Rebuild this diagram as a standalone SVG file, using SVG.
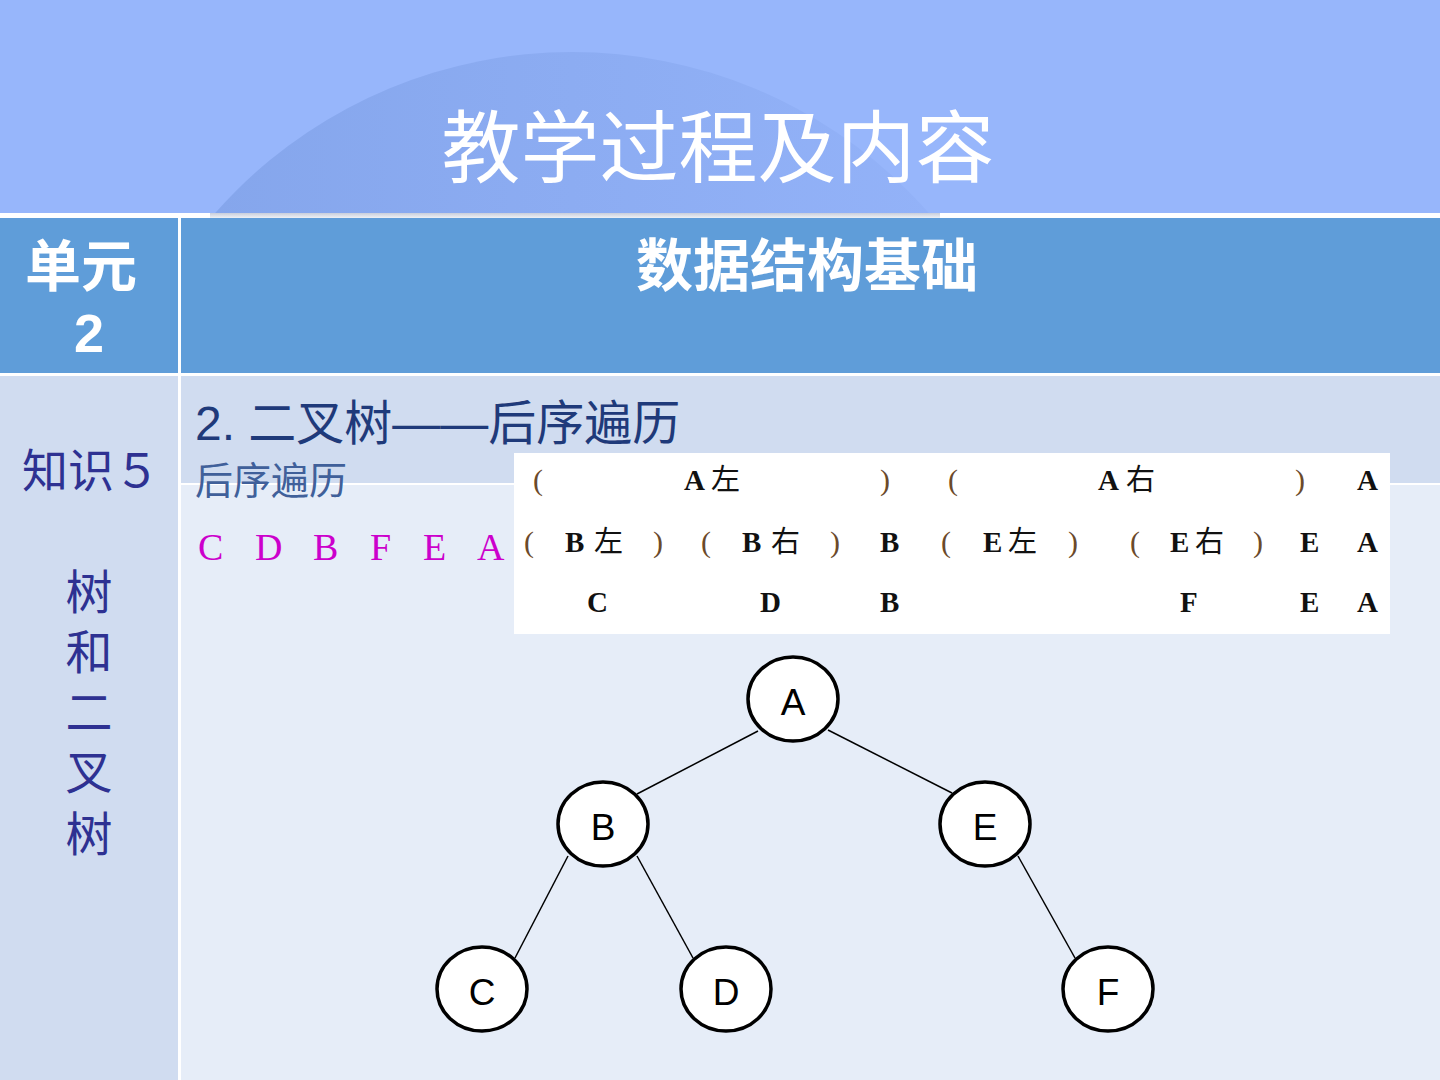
<svg xmlns="http://www.w3.org/2000/svg" width="1440" height="1080" viewBox="0 0 1440 1080">
<defs>
<linearGradient id="arcg" x1="0" y1="0" x2="1" y2="0">
<stop offset="0" stop-color="#83a4ea"/>
<stop offset="1" stop-color="#95b4fa"/>
</linearGradient>
<linearGradient id="shad" x1="0" y1="0" x2="0" y2="1">
<stop offset="0" stop-color="#c8cedc"/>
<stop offset="1" stop-color="#eef0f5"/>
</linearGradient>
<clipPath id="hdr"><rect x="0" y="0" width="1440" height="213"/></clipPath>
</defs>
<style>
.cjk{font-family:"Liberation Sans","Noto Sans CJK SC",sans-serif}
.ser{font-family:"Liberation Serif","Noto Serif CJK SC","Noto Sans CJK SC",serif}
.tb{font-family:"Liberation Serif","Noto Sans CJK SC",serif;font-size:29px;fill:#111;font-weight:bold}
.tp{font-family:"Liberation Serif","Noto Sans CJK SC",serif;font-size:30px;fill:#6b4a2a}
.tc{font-family:"Noto Sans CJK SC",sans-serif;font-size:29px;fill:#111}
.node ellipse{fill:#fff;stroke:#000;stroke-width:3.5}
.node text{font-family:"Liberation Sans",Arial,sans-serif;font-size:37px;fill:#000;text-anchor:middle}
.edge{stroke:#000;stroke-width:1.5}
</style>
<rect x="0" y="0" width="1440" height="1080" fill="#ffffff"/>
<rect x="0" y="0" width="1440" height="213" fill="#97b6fb"/>
<g clip-path="url(#hdr)">
<circle cx="572" cy="528" r="476" fill="url(#arcg)"/>
</g>
<rect x="210" y="213" width="730" height="5" fill="url(#shad)"/>
<text x="718" y="177" class="cjk" font-size="79" fill="#ffffff" text-anchor="middle">教学过程及内容</text>

<rect x="0" y="218" width="178" height="155" fill="#5f9dd9"/>
<rect x="181" y="218" width="1259" height="155" fill="#5f9dd9"/>
<text x="81" y="286" class="cjk" font-size="56" font-weight="bold" fill="#ffffff" text-anchor="middle">单元</text>
<text x="89" y="352" class="cjk" font-size="54" font-weight="bold" fill="#ffffff" text-anchor="middle">2</text>
<text x="807" y="286" class="cjk" font-size="57" font-weight="bold" fill="#ffffff" text-anchor="middle">数据结构基础</text>

<rect x="0" y="376" width="178" height="704" fill="#d0dcf0"/>
<rect x="181" y="376" width="1259" height="107" fill="#d0dcf0"/>
<rect x="181" y="485" width="1259" height="595" fill="#e6edf8"/>

<text x="22" y="487" class="cjk" font-size="46" fill="#2e3192">知识５</text>
<g class="cjk" font-size="47" fill="#2e3192" text-anchor="middle">
<text x="89" y="609">树</text>
<text x="89" y="669">和</text>
<text x="89" y="729">二</text>
<text x="89" y="789">叉</text>
<text x="89" y="851">树</text>
</g>

<text x="195" y="440" class="cjk" font-size="48" fill="#1f3a7a">2. 二叉树——后序遍历</text>
<text x="195" y="494" class="cjk" font-size="38" fill="#40609a">后序遍历</text>
<g class="ser" font-size="38" fill="#cc00cc">
<text x="198" y="560">C</text>
<text x="255" y="560">D</text>
<text x="313" y="560">B</text>
<text x="370" y="560">F</text>
<text x="423" y="560">E</text>
<text x="477" y="560">A</text>
</g>

<g id="table">
<rect x="514" y="453" width="876" height="181" fill="#ffffff"/>
<text x="533" y="490" class="tp">(</text>
<text x="684" y="490" class="tb">A</text><text x="711" y="490" class="tc">左</text>
<text x="880" y="490" class="tp">)</text>
<text x="948" y="490" class="tp">(</text>
<text x="1098" y="490" class="tb">A</text><text x="1126" y="490" class="tc">右</text>
<text x="1295" y="490" class="tp">)</text>
<text x="1357" y="490" class="tb">A</text>

<text x="524" y="552" class="tp">(</text>
<text x="565" y="552" class="tb">B</text><text x="594" y="552" class="tc">左</text>
<text x="653" y="552" class="tp">)</text>
<text x="701" y="552" class="tp">(</text>
<text x="742" y="552" class="tb">B</text><text x="771" y="552" class="tc">右</text>
<text x="830" y="552" class="tp">)</text>
<text x="880" y="552" class="tb">B</text>
<text x="941" y="552" class="tp">(</text>
<text x="983" y="552" class="tb">E</text><text x="1008" y="552" class="tc">左</text>
<text x="1068" y="552" class="tp">)</text>
<text x="1130" y="552" class="tp">(</text>
<text x="1170" y="552" class="tb">E</text><text x="1195" y="552" class="tc">右</text>
<text x="1253" y="552" class="tp">)</text>
<text x="1300" y="552" class="tb">E</text>
<text x="1357" y="552" class="tb">A</text>

<text x="587" y="612" class="tb">C</text>
<text x="760" y="612" class="tb">D</text>
<text x="880" y="612" class="tb">B</text>
<text x="1180" y="612" class="tb">F</text>
<text x="1300" y="612" class="tb">E</text>
<text x="1357" y="612" class="tb">A</text>
</g>

<g id="connectors">
<line class="edge" x1="758" y1="731" x2="637" y2="794"/>
<line class="edge" x1="828" y1="730" x2="952" y2="793"/>
<line class="edge" x1="568" y1="856" x2="515" y2="958"/>
<line class="edge" x1="637" y1="856" x2="693" y2="958"/>
<line class="edge" x1="1018" y1="856" x2="1075" y2="958"/>
</g>

<g id="node-A" class="node"><ellipse cx="793" cy="699" rx="45" ry="42"/><text x="793" y="715">A</text></g>
<g id="node-B" class="node"><ellipse cx="603" cy="824" rx="45" ry="42"/><text x="603" y="840">B</text></g>
<g id="node-E" class="node"><ellipse cx="985" cy="824" rx="45" ry="42"/><text x="985" y="840">E</text></g>
<g id="node-C" class="node"><ellipse cx="482" cy="989" rx="45" ry="42"/><text x="482" y="1005">C</text></g>
<g id="node-D" class="node"><ellipse cx="726" cy="989" rx="45" ry="42"/><text x="726" y="1005">D</text></g>
<g id="node-F" class="node"><ellipse cx="1108" cy="989" rx="45" ry="42"/><text x="1108" y="1005">F</text></g>
</svg>
